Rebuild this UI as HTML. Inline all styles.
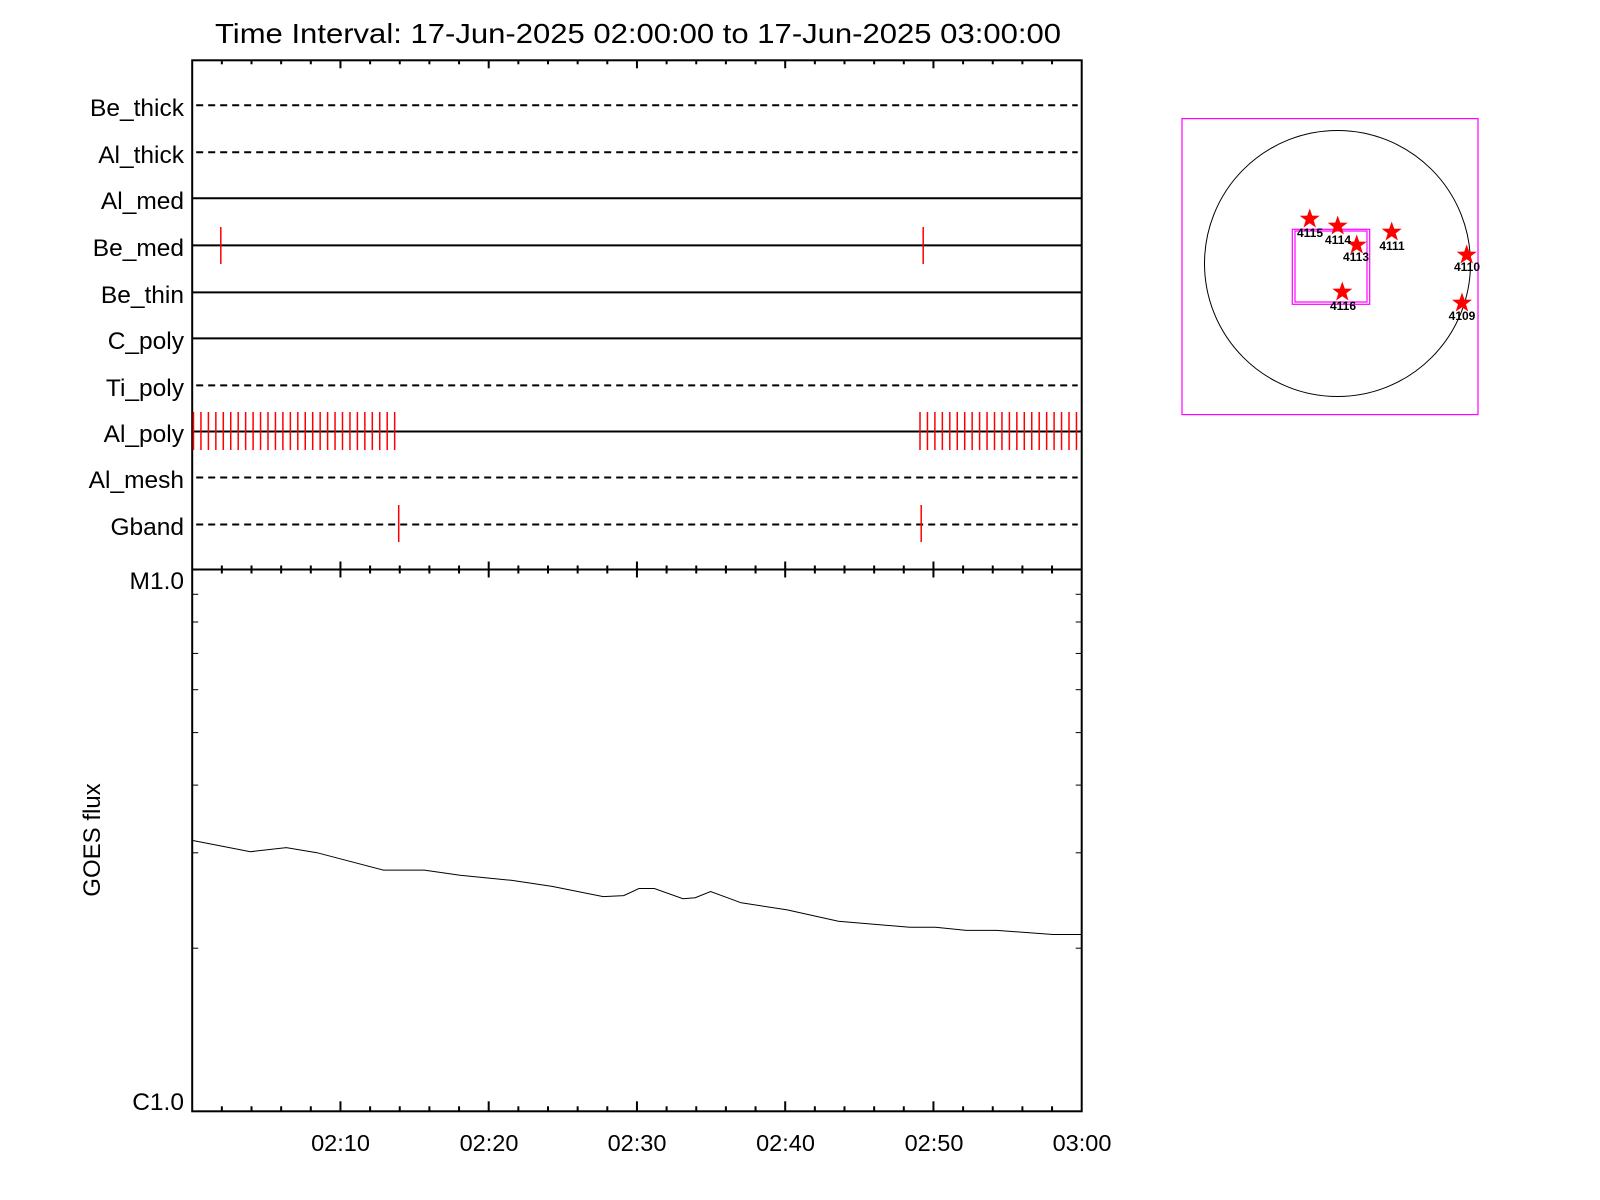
<!DOCTYPE html>
<html><head><meta charset="utf-8"><style>
html,body{margin:0;padding:0;background:#fff;}
svg{display:block;font-family:"Liberation Sans",sans-serif;}
</style></head><body>
<svg id="s" width="1600" height="1200" viewBox="0 0 1600 1200" xmlns="http://www.w3.org/2000/svg">
<rect width="1600" height="1200" fill="#fff"/>
<text x="638" y="43" font-size="28" text-anchor="middle" textLength="846" lengthAdjust="spacingAndGlyphs">Time Interval: 17-Jun-2025 02:00:00 to 17-Jun-2025 03:00:00</text>
<g font-size="24.5" text-anchor="end">
<text x="184" y="116">Be_thick</text>
<text x="184" y="163">Al_thick</text>
<text x="184" y="209">Al_med</text>
<text x="184" y="256">Be_med</text>
<text x="184" y="303">Be_thin</text>
<text x="184" y="349">C_poly</text>
<text x="184" y="396">Ti_poly</text>
<text x="184" y="442">Al_poly</text>
<text x="184" y="488">Al_mesh</text>
<text x="184" y="535">Gband</text>
<text x="184" y="589">M1.0</text>
<text x="184" y="1110">C1.0</text>
</g>
<text transform="translate(100,840) rotate(-90)" font-size="24" text-anchor="middle">GOES flux</text>
<g font-size="23.5" text-anchor="middle">
<text x="340.5" y="1151">02:10</text>
<text x="489" y="1151">02:20</text>
<text x="637" y="1151">02:30</text>
<text x="785.5" y="1151">02:40</text>
<text x="934" y="1151">02:50</text>
<text x="1082" y="1151">03:00</text>
</g>
<g id="g"></g>
<g font-size="12" font-weight="bold" text-anchor="middle">
<text x="1310" y="237">4115</text>
<text x="1338" y="244">4114</text>
<text x="1356" y="261">4113</text>
<text x="1392" y="250">4111</text>
<text x="1467" y="271">4110</text>
<text x="1462" y="320">4109</text>
<text x="1343" y="310">4116</text>
</g>
</svg>
<script>
var g=document.getElementById('g'),h='';
var L=192.2,R=1081.7,T=60.3,D=569.5,B=1111.3,k=1.0224;
function ln(x1,y1,x2,y2,c,w,da){h+='<line x1="'+x1+'" y1="'+y1+'" x2="'+x2+'" y2="'+y2+'" stroke="'+(c||'#000')+'" stroke-width="'+(w||1)+'"'+(da?' stroke-dasharray="'+da+'"':'')+'/>';}
h+='<rect x="'+L+'" y="'+T+'" width="'+(R-L)+'" height="'+(B-T)+'" fill="none" stroke="#000" stroke-width="2"/>';
ln(L,D,R,D,'#000',2);
var pm=(R-L)/60;
for(var m=2;m<60;m+=2){var x=L+m*pm,maj=m%10==0;
 ln(x,T,x,T+(maj?8:4),'#000',2);
 ln(x,D-(maj?8:4),x,D+(maj?8:4),'#000',2);
 ln(x,B,x,B-(maj?10:5),'#000',2);}
var rows=[[105.3,1],[152.3,1],[198.3,0],[245.4,0],[292.4,0],[338.4,0],[385.4,1],[431.5,0],[477.5,1],[524.5,1]];
rows.forEach(function(r){ if(r[1]) ln(L+4,r[0],R-4,r[0],'#000',2,'7 5'); else ln(L,r[0],R,r[0],'#000',2);});
ln(220.8,227,220.8,264,'red',1.5);ln(923.2,227,923.2,264,'red',1.5);
ln(398.7,505,398.7,542,'red',1.5);ln(921.2,505,921.2,542,'red',1.5);
for(var i=0;i<28;i++){var x=193.5+i*7.45;ln(x,412,x,450,'red',1.5);}
for(var i=0;i<22;i++){var x=920+i*7.45;ln(x,412,x,450,'red',1.5);}
var H=B-D;
for(var v=2;v<=9;v++){var y=D+(1-Math.log10(v))*H;ln(L,y,L+6,y,'#000',1);ln(R,y,R-6,y,'#000',1);}
var p=[[188,822],[245,833],[280,829],[310,834],[375,851],[415,851],[450,856],[500,861],[540,867],[590,877],[610,876],[625,869],[640,869],[668,879],[680,878],[695,872],[725,883],[770,890],[820,901],[890,907],[915,907],[945,910],[975,910],[1030,914],[1058,914]];
h+='<polyline fill="none" stroke="#000" stroke-width="1" points="'+p.map(function(q){return (q[0]*k).toFixed(1)+','+(q[1]*k).toFixed(1)}).join(' ')+'"/>';
h+='<rect x="1182" y="118.6" width="296" height="296" fill="none" stroke="#f0f" stroke-width="1.2"/>';
h+='<circle cx="1337.5" cy="263.5" r="133" fill="none" stroke="#000" stroke-width="1"/>';
h+='<rect x="1292.3" y="229.3" width="77.4" height="75" fill="none" stroke="#f0f" stroke-width="1.2"/>';
h+='<rect x="1295" y="231" width="72" height="71" fill="none" stroke="#f0f" stroke-width="1.2"/>';
function star(cx,cy,r){var s='';for(var i=0;i<10;i++){var a=-Math.PI/2+i*Math.PI/5,rr=i%2?r*0.4:r;s+=(cx+rr*Math.cos(a)).toFixed(1)+','+(cy+rr*Math.sin(a)).toFixed(1)+' ';}h+='<polygon points="'+s+'" fill="red"/>';}
[[1309.7,219],[1337.7,226],[1356.7,245],[1391.7,232],[1466.7,255],[1462,303],[1342.3,292]].forEach(function(q){star(q[0],q[1],10.5);});
g.innerHTML=h;
</script>
</body></html>
